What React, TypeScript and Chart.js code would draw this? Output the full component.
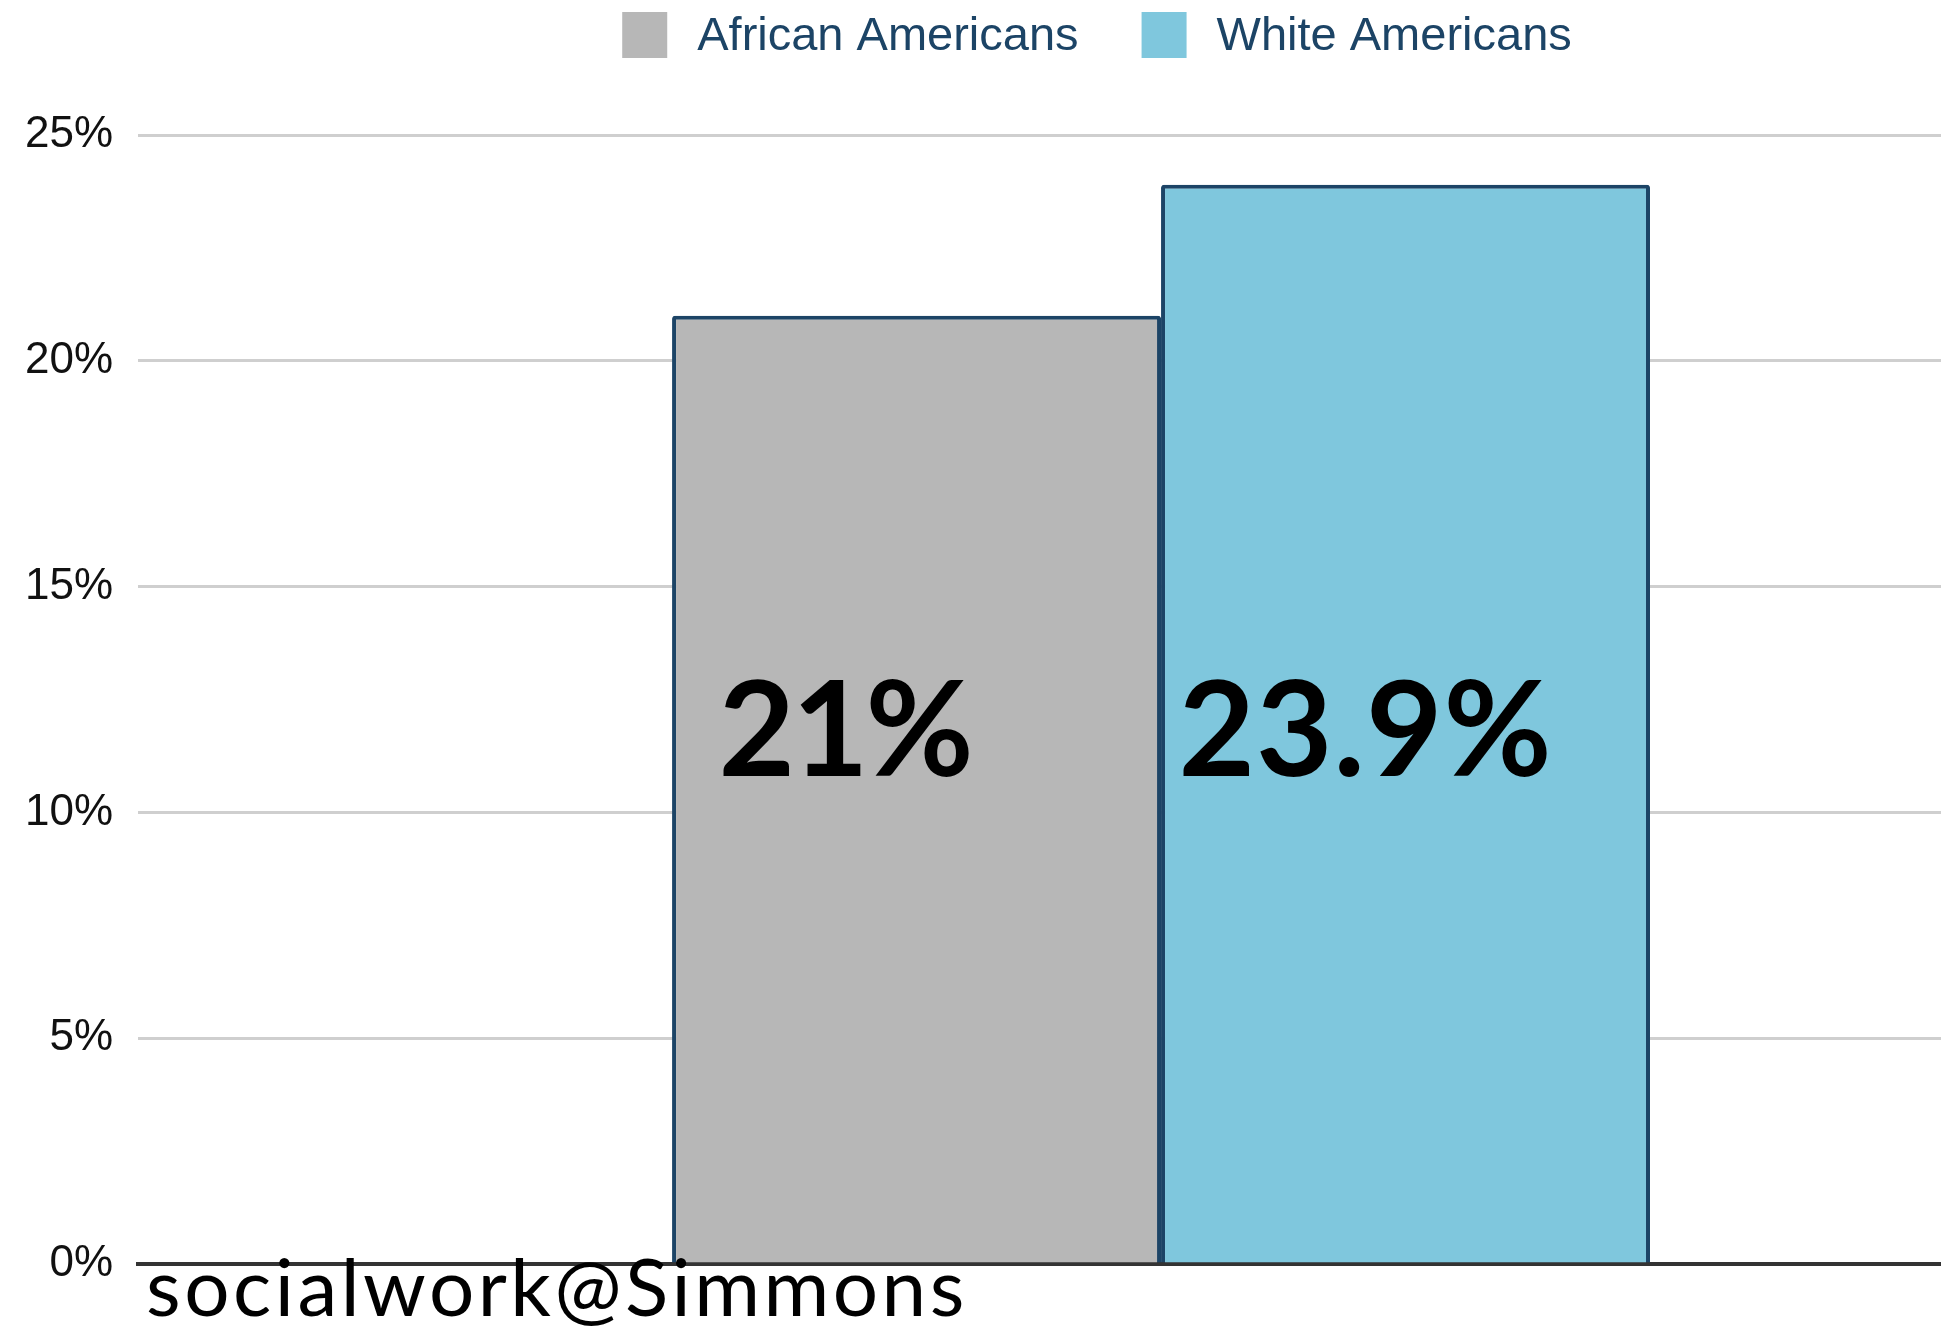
import React, { useEffect, useRef } from "react";
import { Chart, registerables } from "chart.js";

Chart.register(...registerables);

// ---- data ----
const categories = [""];
const seriesNames = ["African Americans", "White Americans"];
const africanValues = [21];
const whiteValues = [23.9];
const valueLabels = ["21%", "23.9%"];
const seriesColors = ["#b7b7b7", "#7fc7dd"];
const yTickMax = 25;
const yTickStep = 5;
const watermark = "socialwork@Simmons";

const BORDER = "#1c4466";

const legendPlugin = {
  id: "customLegend",
  afterDraw(chart: any) {
    const ctx = chart.ctx;
    ctx.save();
    ctx.font = '47px "Liberation Sans", Arial, sans-serif';
    ctx.textBaseline = "middle";
    ctx.textAlign = "left";
    const boxW = 45, boxH = 46, gap = 30, spacing = 63, top = 12;
    const items = chart.data.datasets.map((d: any) => ({
      text: d.label,
      color: d.backgroundColor,
      w: boxW + gap + ctx.measureText(d.label).width,
    }));
    const total = items.reduce((s: number, it: any) => s + it.w, 0) + spacing * (items.length - 1);
    let x = chart.width / 2 - total / 2;
    items.forEach((it: any) => {
      ctx.fillStyle = it.color;
      ctx.fillRect(x, top, boxW, boxH);
      ctx.fillStyle = BORDER;
      ctx.fillText(it.text, x + boxW + gap, top + boxH / 2 + 2);
      x += it.w + spacing;
    });
    ctx.restore();
  },
};

const labelPlugin = {
  id: "valueLabels",
  afterDatasetsDraw(chart: any) {
    const ctx = chart.ctx;
    const shifts = [-72, -40];
    const spacing = ["-3px", "1px"];
    ctx.save();
    ctx.font = 'bold 132px Lato, "DejaVu Sans", sans-serif';
    ctx.fillStyle = "#000";
    ctx.textAlign = "center";
    ctx.textBaseline = "alphabetic";
    const y = chart.scales.y.getPixelForValue(10.8);
    chart.data.datasets.forEach((_d: any, i: number) => {
      const bar = chart.getDatasetMeta(i).data[0];
      if (!bar) return;
      (ctx as any).letterSpacing = spacing[i];
      ctx.fillText(valueLabels[i], bar.x + shifts[i], y);
    });
    ctx.restore();
  },
  afterDraw(chart: any) {
    const ctx = chart.ctx;
    ctx.save();
    ctx.font = '80px Lato, "Noto Sans", sans-serif';
    ctx.fillStyle = "#000";
    ctx.textAlign = "left";
    ctx.textBaseline = "alphabetic";
    (ctx as any).letterSpacing = "3.5px";
    ctx.fillText(watermark, chart.chartArea.left + 8, chart.height - 12);
    ctx.restore();
  },
};

export default function App() {
  const ref = useRef<HTMLCanvasElement | null>(null);
  useEffect(() => {
    document.body.style.margin = "0";
    if (!ref.current) return;
    const chart = new Chart(ref.current, {
      type: "bar",
      data: {
        labels: categories,
        datasets: [
          {
            label: seriesNames[0],
            data: africanValues,
            backgroundColor: seriesColors[0],
            borderColor: BORDER,
            borderWidth: 4,
            borderRadius: 3,
          },
          {
            label: seriesNames[1],
            data: whiteValues,
            backgroundColor: seriesColors[1],
            borderColor: BORDER,
            borderWidth: 4,
            borderRadius: 3,
          },
        ],
      },
      options: {
        animation: false,
        responsive: true,
        maintainAspectRatio: false,
        devicePixelRatio: 1,
        layout: { padding: { left: 0, right: 10, top: 135, bottom: 64 } },
        datasets: { bar: { categoryPercentage: 0.478, barPercentage: 1 } },
        plugins: { legend: { display: false }, tooltip: { enabled: false } },
        scales: {
          x: {
            display: true,
            z: 1,
            ticks: { display: false },
            grid: { display: false, drawTicks: false },
            border: { display: true, color: "#333333", width: 4 },
          },
          y: {
            min: 0,
            max: yTickMax,
            ticks: {
              stepSize: yTickStep,
              padding: 25,
              color: "#111111",
              font: { family: '"Liberation Sans", Arial, sans-serif', size: 44 },
              callback: (v: any) => v + "%",
            },
            grid: { color: "#cfcfcf", lineWidth: 3, drawTicks: false },
            border: { display: false },
          },
        },
      },
      plugins: [legendPlugin, labelPlugin],
    });
    return () => chart.destroy();
  }, []);
  return (
    <div style={{ position: "fixed", left: 0, top: 0, width: 1941, height: 1328, overflow: "hidden", background: "#fff" }}>
      <div style={{ position: "absolute", left: 0, top: 0, width: 2194, height: 1328 }}>
        <canvas ref={ref} />
      </div>
    </div>
  );
}
